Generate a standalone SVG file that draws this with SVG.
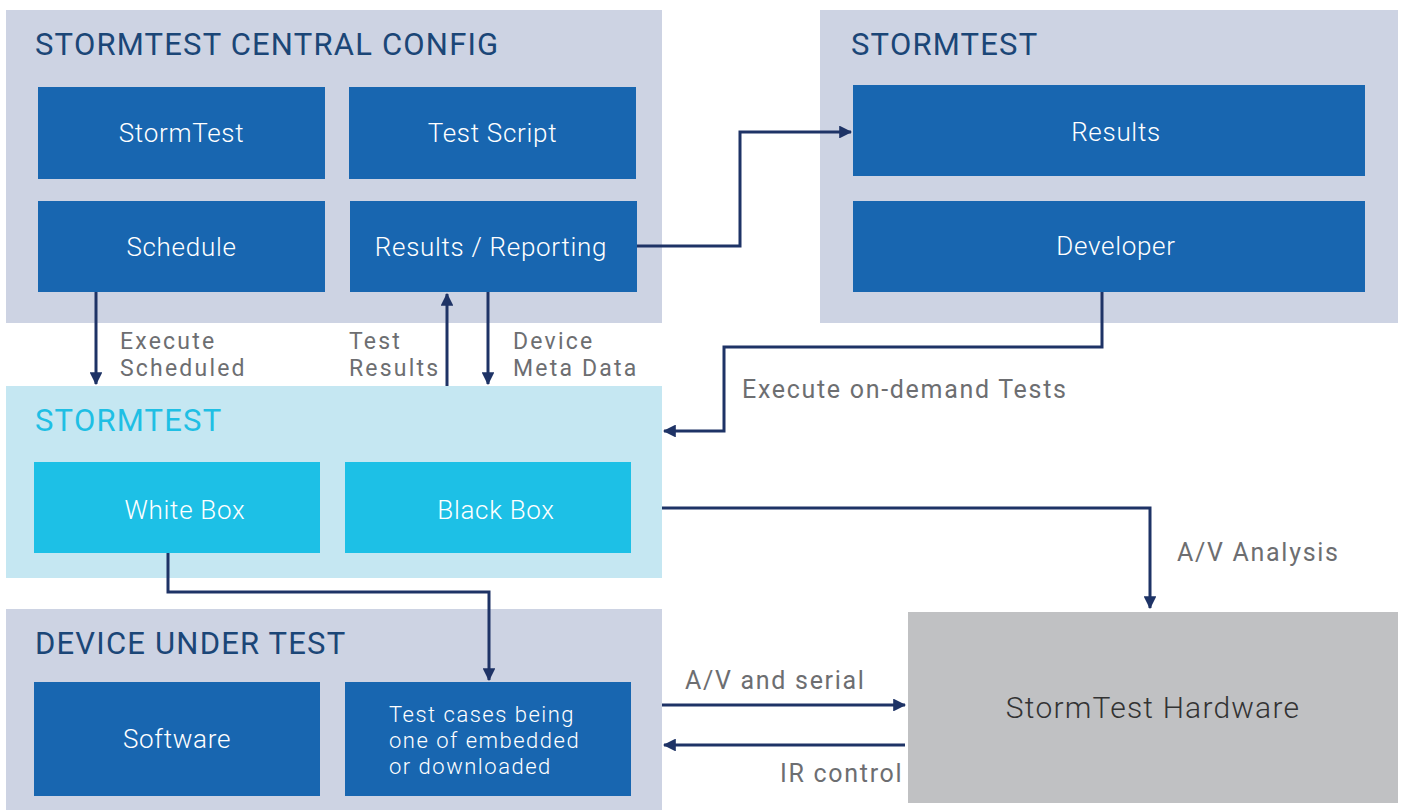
<svg xmlns="http://www.w3.org/2000/svg" width="1402" height="810" viewBox="0 0 1402 810">
<style>
.panel{fill:#cdd3e3}
.panel-lt{fill:#c5e7f2}
.box{fill:#1866b0}
.box-lt{fill:#1dc0e6}
.hw{fill:#c0c1c3}
.title{font-family:Roboto,"Liberation Sans",sans-serif;font-size:31px;letter-spacing:1.2px;fill:#1b4677}
.title-lt{fill:#1fbfe4}
.bt{font-family:Roboto,"Liberation Sans",sans-serif;font-size:26px;letter-spacing:0.7px;font-weight:300;fill:#ffffff;text-anchor:middle}
.bt2{font-family:Roboto,"Liberation Sans",sans-serif;font-size:22px;letter-spacing:1.5px;font-weight:300;fill:#ffffff}
.lbl{font-family:Roboto,"Liberation Sans",sans-serif;font-size:25px;letter-spacing:1.7px;fill:#6d6e71}
.lbl2{font-family:Roboto,"Liberation Sans",sans-serif;font-size:23px;letter-spacing:2.2px;fill:#6d6e71}
.hwt{font-family:Roboto,"Liberation Sans",sans-serif;font-size:30px;letter-spacing:1.2px;font-weight:300;fill:#333333;text-anchor:middle}
.conn{fill:none;stroke:#1e3366;stroke-width:3}
</style>
<defs>
<marker id="arr" viewBox="0 0 12 12" refX="11" refY="6" markerWidth="4.3" markerHeight="4.3" orient="auto" markerUnits="strokeWidth">
<path d="M0,0 L12,6 L0,12 Z" fill="#1e3366"/>
</marker>
</defs>
<g id="central-config">
<rect class="panel" x="6" y="10" width="656" height="313"/>
<text class="title" x="35" y="55">STORMTEST CENTRAL CONFIG</text>
</g>
<g id="node-stormtest"><rect class="box" x="38" y="87" width="287" height="92"/><text class="bt" x="181.5" y="142">StormTest</text></g>
<g id="node-testscript"><rect class="box" x="349" y="87" width="287" height="92"/><text class="bt" x="492.5" y="142">Test Script</text></g>
<g id="node-schedule"><rect class="box" x="38" y="201" width="287" height="91"/><text class="bt" x="181.5" y="256">Schedule</text></g>
<g id="node-results-reporting"><rect class="box" x="350" y="201" width="287" height="91"/><text class="bt" x="491" y="256">Results / Reporting</text></g>
<g id="stormtest-right">
<rect class="panel" x="820" y="10" width="578" height="313"/>
<text class="title" x="851" y="55">STORMTEST</text>
</g>
<g id="node-results"><rect class="box" x="853" y="85" width="512" height="91"/><text class="bt" x="1116" y="141">Results</text></g>
<g id="node-developer"><rect class="box" x="853" y="201" width="512" height="91"/><text class="bt" x="1116" y="255">Developer</text></g>
<g id="stormtest-mid">
<rect class="panel-lt" x="6" y="386" width="656" height="192"/>
<text class="title title-lt" x="35" y="431">STORMTEST</text>
</g>
<g id="node-whitebox"><rect class="box-lt" x="34" y="462" width="286" height="91"/><text class="bt" x="185" y="519">White Box</text></g>
<g id="node-blackbox"><rect class="box-lt" x="345" y="462" width="286" height="91"/><text class="bt" x="496" y="519">Black Box</text></g>
<g id="device-under-test">
<rect class="panel" x="6" y="609" width="656" height="201"/>
<text class="title" x="35" y="654">DEVICE UNDER TEST</text>
</g>
<g id="node-software"><rect class="box" x="34" y="682" width="286" height="114"/><text class="bt" x="177" y="748">Software</text></g>
<g id="node-testcases"><rect class="box" x="345" y="682" width="286" height="114"/>
<text class="bt2" x="389" y="722">Test cases being<tspan x="389" dy="26">one of embedded</tspan><tspan x="389" dy="26">or downloaded</tspan></text></g>
<g id="node-hardware"><rect class="hw" x="908" y="612" width="490" height="191"/><text class="hwt" x="1153" y="718">StormTest Hardware</text></g>
<g id="connectors">
<path class="conn" d="M96,292 V384" marker-end="url(#arr)"/>
<path class="conn" d="M447,386 V294" marker-end="url(#arr)"/>
<path class="conn" d="M488,292 V384" marker-end="url(#arr)"/>
<path class="conn" d="M637,246 H740 V132 H851" marker-end="url(#arr)"/>
<path class="conn" d="M1102,292 V347 H724 V431 H664" marker-end="url(#arr)"/>
<path class="conn" d="M662,508 H1150 V608" marker-end="url(#arr)"/>
<path class="conn" d="M168,553 V592 H489 V680" marker-end="url(#arr)"/>
<path class="conn" d="M662,705 H905" marker-end="url(#arr)"/>
<path class="conn" d="M905,745 H664" marker-end="url(#arr)"/>
<text class="lbl2" x="120" y="349">Execute<tspan x="120" dy="27">Scheduled</tspan></text>
<text class="lbl2" x="349" y="349">Test<tspan x="349" dy="27">Results</tspan></text>
<text class="lbl2" x="513" y="349">Device<tspan x="513" dy="27">Meta Data</tspan></text>
<text class="lbl" x="742" y="398">Execute on-demand Tests</text>
<text class="lbl" x="1177" y="561">A/V Analysis</text>
<text class="lbl" x="685" y="689">A/V and serial</text>
<text class="lbl" x="780" y="782">IR control</text>
</g>
</svg>
